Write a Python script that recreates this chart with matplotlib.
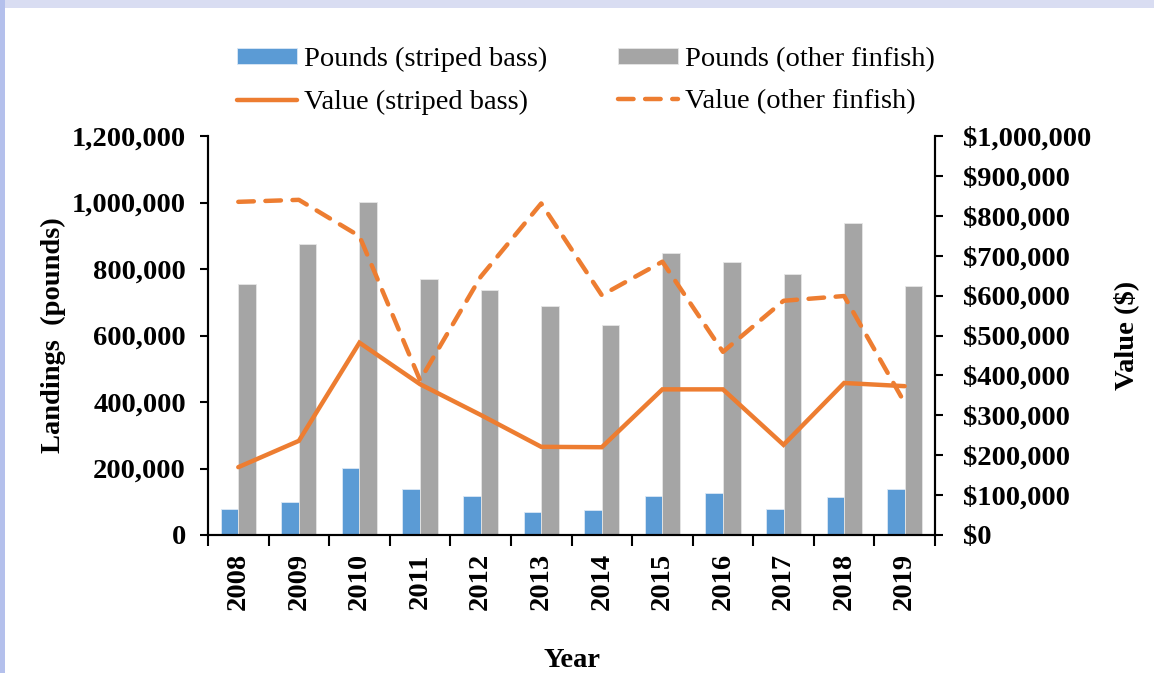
import matplotlib.pyplot as plt
import numpy as np
from matplotlib.patches import Rectangle
from matplotlib.ticker import FuncFormatter, MultipleLocator, FixedLocator

# data
years = ["2008", "2009", "2010", "2011", "2012", "2013", "2014", "2015", "2016", "2017", "2018", "2019"]
lbs_striped = [78000, 100000, 201000, 138000, 117000, 69000, 75000, 117000, 126000, 78000, 115000, 137000]
lbs_other = [755000, 874000, 1002000, 769000, 737000, 690000, 632000, 849000, 822000, 785000, 938000, 749000]
val_striped = [170000, 236000, 482000, 378000, 301000, 221000, 220000, 365000, 365000, 226000, 381000, 373000]
val_other = [835000, 840000, 749000, 388000, 647000, 831000, 601000, 685000, 459000, 587000, 599000, 331000]

plt.rcParams['font.family'] = ['Liberation Serif', 'DejaVu Serif']

blue = '#5B9BD5'
grey = '#A5A5A5'
orange = '#ED7D31'
fs = 20.5

fig = plt.figure(figsize=(11.54, 6.73), dpi=100)

# lavender frame on top and left
fig.patches.append(Rectangle((0, 1 - 8/673), 1, 8/673, transform=fig.transFigure,
                             facecolor='#d9ddf2', edgecolor='none', zorder=0))
fig.patches.append(Rectangle((0, 0), 5/1154, 1, transform=fig.transFigure,
                             facecolor='#b4c0ec', edgecolor='none', zorder=0))

ax = fig.add_axes([208/1154, 1 - 535/673, (935 - 208)/1154, (535 - 136)/673])
ax2 = ax.twinx()

x = np.arange(len(years))
w = 0.29
b1 = ax.bar(x - w/2, lbs_striped, w, color=blue, edgecolor='#dbe8f5', linewidth=0.6, label='Pounds (striped bass)')
b2 = ax.bar(x + w/2, lbs_other, w, color=grey, edgecolor='#e6e6e6', linewidth=0.6, label='Pounds (other finfish)')

l1, = ax2.plot(x, val_striped, color=orange, lw=3.2, solid_capstyle='round',
               solid_joinstyle='miter', label='Value (striped bass)')
l2, = ax2.plot(x, val_other, color=orange, lw=3.2, linestyle=(0, (3.5, 2.6)),
               dash_capstyle='round', label='Value (other finfish)')

ax.set_xlim(-0.5, len(years) - 0.5)
ax.set_ylim(0, 1200000)
ax2.set_ylim(0, 1000000)
ax.yaxis.set_major_locator(MultipleLocator(200000))
ax2.yaxis.set_major_locator(MultipleLocator(100000))
ax.yaxis.set_major_formatter(FuncFormatter(lambda v, p: f"{int(v):,}"))
ax2.yaxis.set_major_formatter(FuncFormatter(lambda v, p: f"${int(v):,}"))

ax.set_xticks(x)
ax.set_xticklabels(years, rotation=90, fontsize=fs, fontweight='bold')
ax.xaxis.set_minor_locator(FixedLocator(np.arange(-0.5, len(years), 1)))
ax.tick_params(axis='x', which='major', length=0, pad=13)
ax.tick_params(axis='x', which='minor', length=8, width=1.5, direction='out')

for a in (ax, ax2):
    a.spines['top'].set_visible(False)
    for s in a.spines.values():
        s.set_linewidth(1.5)
ax.tick_params(axis='y', length=6, width=1.5, direction='out', labelsize=fs, pad=10)
ax2.tick_params(axis='y', length=6, width=1.5, direction='out', labelsize=fs, pad=14)
for t in ax.get_yticklabels() + ax2.get_yticklabels():
    t.set_fontweight('bold')

ax.set_ylabel('Landings  (pounds)', fontsize=fs, fontweight='bold', labelpad=4)
ax2.set_ylabel('Value ($)', fontsize=fs, fontweight='bold', labelpad=16)
ax.set_xlabel('Year', fontsize=fs, fontweight='bold', labelpad=27)

ax2.set_zorder(ax.get_zorder() + 1)
ax2.patch.set_visible(False)

fig.legend(handles=[b1, l1, b2, l2], loc='center', bbox_to_anchor=(586/1154, 1 - 81/673),
           ncol=2, frameon=False, fontsize=fs, handlelength=2.1, handletextpad=0.25,
           columnspacing=2.5, labelspacing=0.6, handleheight=0.5)

fig.savefig('out.png', dpi=100)
